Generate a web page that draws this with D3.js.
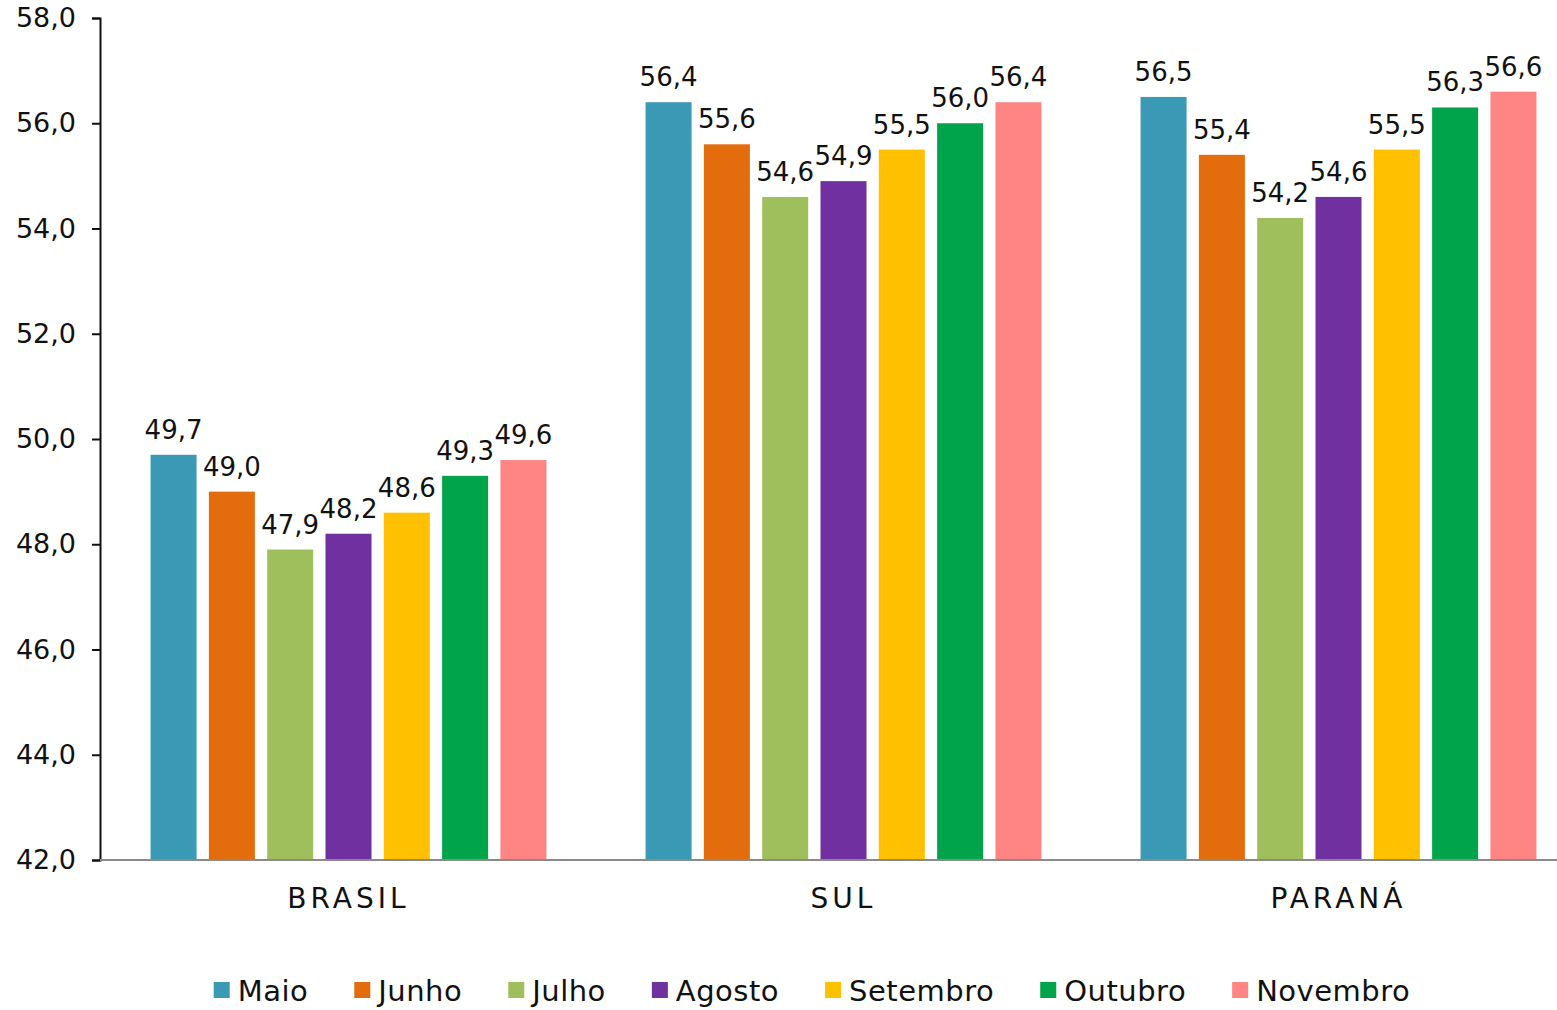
<!DOCTYPE html>
<html>
<head>
<meta charset="utf-8">
<script src="https://cdn.jsdelivr.net/npm/d3@7"></script>
<style>
  html, body { margin: 0; padding: 0; background: #fff; overflow: hidden; }
  svg { display: block; font-family: "DejaVu Sans", sans-serif; }
</style>
</head>
<body>
<svg id="chart" width="1557" height="1010"></svg>
<script>
// Regions on the x axis
const regions = ["BRASIL", "SUL", "PARANÁ"];
// Months (series)
const months = ["Maio", "Junho", "Julho", "Agosto", "Setembro", "Outubro", "Novembro"];
const monthColors = ["#3A9AB5", "#E36C0D", "#9FBE5C", "#7030A0", "#FFC000", "#00A44A", "#FF8585"];
// Values per month, one entry per region
const maio     = [49.7, 56.4, 56.5];
const junho    = [49.0, 55.6, 55.4];
const julho    = [47.9, 54.6, 54.2];
const agosto   = [48.2, 54.9, 54.6];
const setembro = [48.6, 55.5, 55.5];
const outubro  = [49.3, 56.0, 56.3];
const novembro = [49.6, 56.4, 56.6];
// Y axis ticks
const yTicks = [42, 44, 46, 48, 50, 52, 54, 56, 58];

const seriesValues = [maio, junho, julho, agosto, setembro, outubro, novembro];

const svg = d3.select("#chart");
const fmt = v => d3.format(".1f")(v).replace(".", ",");

const y = d3.scaleLinear().domain([42, 58]).range([860, 18]);
const x0 = d3.scaleBand().domain(regions).range([101, 1586]).padding(0);
const x1 = d3.scaleBand().domain(months).range([0, x0.bandwidth()])
  .paddingInner(0.211).paddingOuter(0.85);
const color = d3.scaleOrdinal().domain(months).range(monthColors);

// Bars and value labels
const groups = svg.append("g").selectAll("g")
  .data(regions)
  .join("g")
  .attr("transform", d => `translate(${x0(d)},0)`);

const cells = groups.selectAll("g")
  .data((r, i) => months.map((m, j) => ({ month: m, value: seriesValues[j][i] })))
  .join("g");

cells.append("rect")
  .attr("x", d => x1(d.month))
  .attr("y", d => y(d.value))
  .attr("width", x1.bandwidth())
  .attr("height", d => y(42) - y(d.value))
  .attr("fill", d => color(d.month));

cells.append("text")
  .attr("x", d => x1(d.month) + x1.bandwidth() / 2)
  .attr("y", d => y(d.value) - 16)
  .attr("text-anchor", "middle")
  .attr("font-size", 26)
  .attr("fill", "#111")
  .text(d => fmt(d.value));

// Y axis
const yAxis = svg.append("g")
  .attr("transform", "translate(100,0)")
  .call(d3.axisLeft(y).tickValues(yTicks).tickFormat(fmt).tickSize(8).tickPadding(16));
yAxis.select(".domain").attr("stroke", "#111").attr("stroke-width", 2);
yAxis.selectAll(".tick line").attr("stroke", "#111").attr("stroke-width", 2);
yAxis.selectAll(".tick text")
  .attr("font-size", 27)
  .attr("fill", "#111")
  .attr("font-family", "DejaVu Sans, sans-serif");

// X axis
const xAxis = svg.append("g")
  .attr("transform", "translate(0,860)")
  .call(d3.axisBottom(x0).tickSize(0).tickPadding(28));
xAxis.select(".domain").attr("stroke", "#8a8a8a").attr("stroke-width", 2)
  .attr("d", `M100,0H1600`);
xAxis.selectAll(".tick text")
  .attr("font-size", 28)
  .attr("letter-spacing", 4)
  .attr("fill", "#111")
  .attr("font-family", "DejaVu Sans, sans-serif");

// Legend
const legend = svg.append("g");
const items = legend.selectAll("g").data(months).join("g");
items.append("rect")
  .attr("width", 16).attr("height", 16)
  .attr("y", 982)
  .attr("fill", d => color(d));
items.append("text")
  .attr("x", 24)
  .attr("y", 1001)
  .attr("font-size", 29)
  .attr("letter-spacing", 0.5)
  .attr("fill", "#111")
  .text(d => d);

let widths = [];
items.each(function () {
  widths.push(24 + d3.select(this).select("text").node().getComputedTextLength());
});
const gap = 46;
const total = d3.sum(widths) + gap * (widths.length - 1);
let cursor = 812 - total / 2;
items.attr("transform", (d, i) => {
  const t = `translate(${cursor},0)`;
  cursor += widths[i] + gap;
  return t;
});
</script>
</body>
</html>
